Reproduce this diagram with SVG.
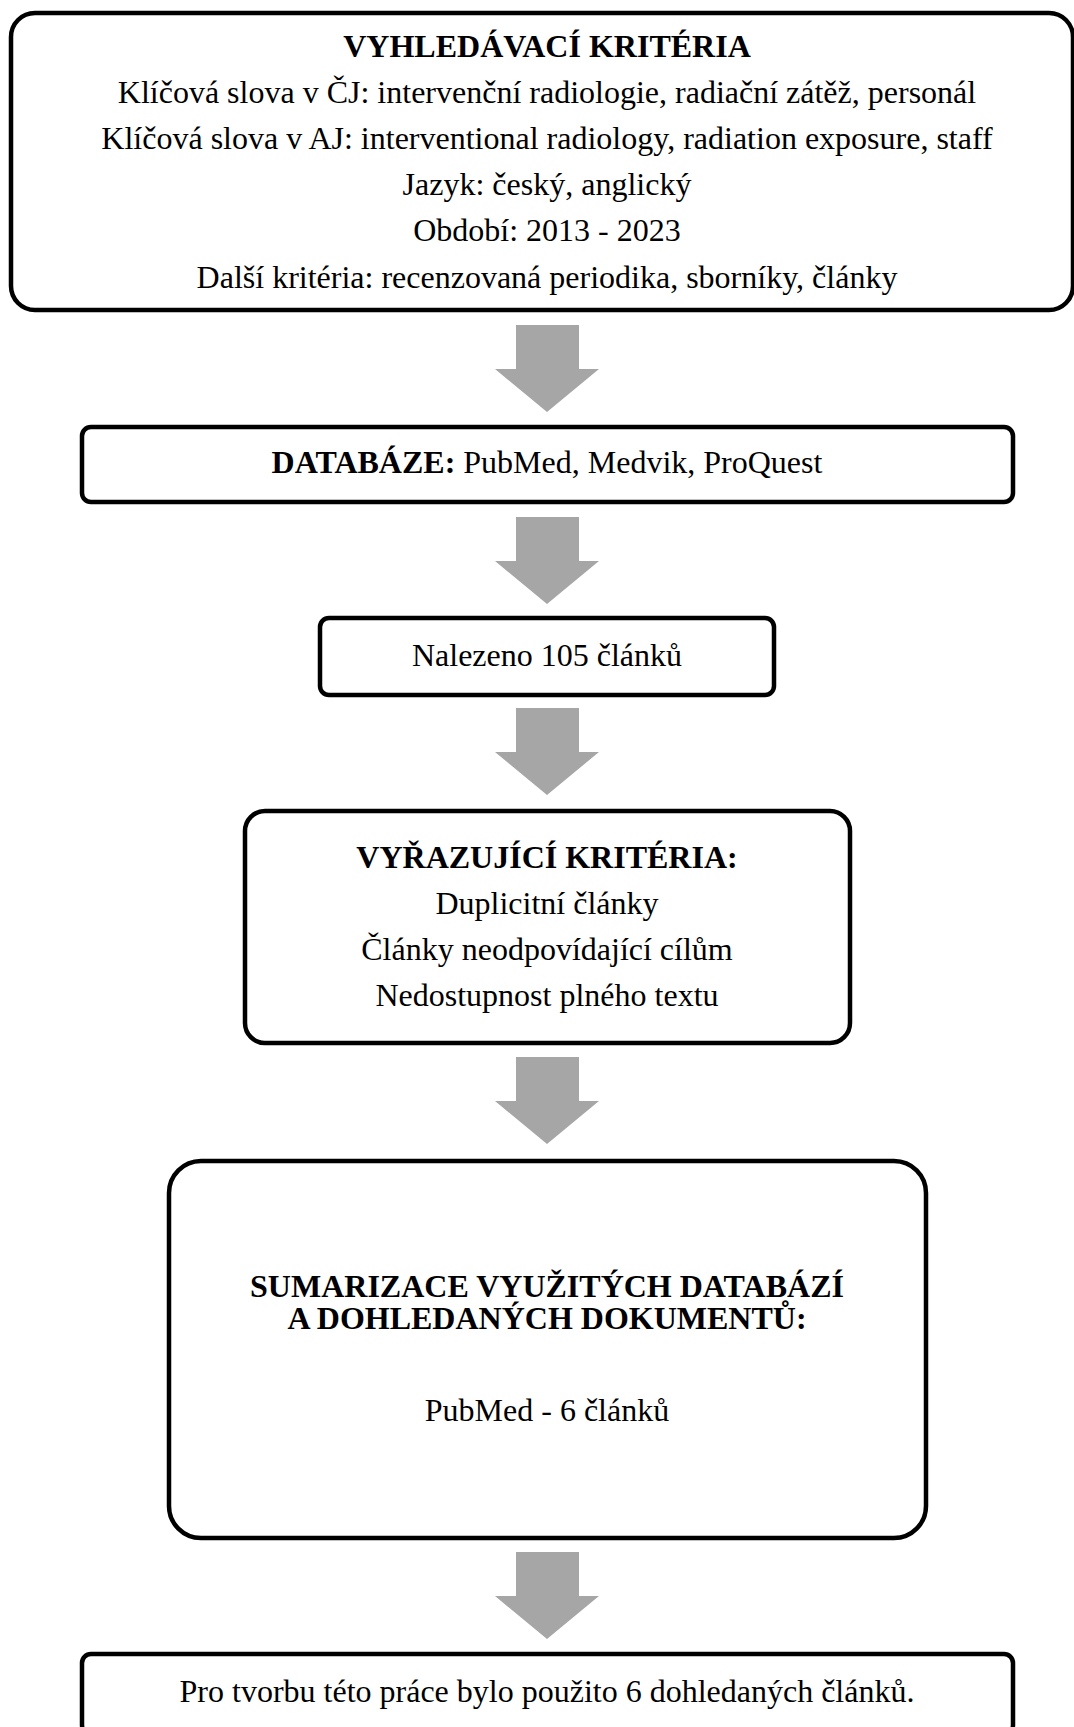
<svg xmlns="http://www.w3.org/2000/svg" width="1074" height="1727" viewBox="0 0 1074 1727">
<style>
.box{fill:#fff;stroke:#000;stroke-width:4.5}
.t{font-family:"Liberation Serif","Times New Roman",serif;font-size:32px;fill:#000;text-anchor:middle}
.b{font-weight:bold}
.arr{fill:#a6a6a6}
</style>
<defs>
<path id="arrow" d="M516,0 L579,0 L579,44 L599,44 L547,87 L495,44 L516,44 Z"/>
</defs>
<rect width="1074" height="1727" fill="#fff"/>
<g id="connectors">
<use href="#arrow" class="arr" y="325"/>
<use href="#arrow" class="arr" y="517"/>
<use href="#arrow" class="arr" y="708"/>
<use href="#arrow" class="arr" y="1057"/>
<use href="#arrow" class="arr" y="1552"/>
</g>
<g id="n1">
<rect class="box" x="11" y="13" width="1062" height="297" rx="24"/>
<text class="t b" x="547" y="56.5">VYHLEDÁVACÍ KRITÉRIA</text>
<text class="t" x="547" y="102.7">Klíčová slova v ČJ: intervenční radiologie, radiační zátěž, personál</text>
<text class="t" x="547" y="148.9">Klíčová slova v AJ: interventional radiology, radiation exposure, staff</text>
<text class="t" x="547" y="195.1">Jazyk: český, anglický</text>
<text class="t" x="547" y="241.3">Období: 2013 - 2023</text>
<text class="t" x="547" y="287.5">Další kritéria: recenzovaná periodika, sborníky, články</text>
</g>
<g id="n2">
<rect class="box" x="82" y="427" width="931" height="75" rx="9"/>
<text class="t" x="547" y="473"><tspan class="b">DATABÁZE:</tspan> PubMed, Medvik, ProQuest</text>
</g>
<g id="n3">
<rect class="box" x="320" y="618" width="454" height="77" rx="9"/>
<text class="t" x="547" y="666">Nalezeno 105 článků</text>
</g>
<g id="n4">
<rect class="box" x="245" y="811" width="605" height="232" rx="20"/>
<text class="t b" x="547" y="868">VYŘAZUJÍCÍ KRITÉRIA:</text>
<text class="t" x="547" y="914">Duplicitní články</text>
<text class="t" x="547" y="960">Články neodpovídající cílům</text>
<text class="t" x="547" y="1006">Nedostupnost plného textu</text>
</g>
<g id="n5">
<rect class="box" x="169" y="1161" width="757" height="377" rx="32"/>
<text class="t b" x="547" y="1297">SUMARIZACE VYUŽITÝCH DATABÁZÍ</text>
<text class="t b" x="547" y="1329">A DOHLEDANÝCH DOKUMENTŮ:</text>
<text class="t" x="547" y="1421">PubMed - 6 článků</text>
</g>
<g id="n6">
<rect class="box" x="82" y="1654" width="931" height="80" rx="9"/>
<text class="t" x="547" y="1702">Pro tvorbu této práce bylo použito 6 dohledaných článků.</text>
</g>
</svg>
